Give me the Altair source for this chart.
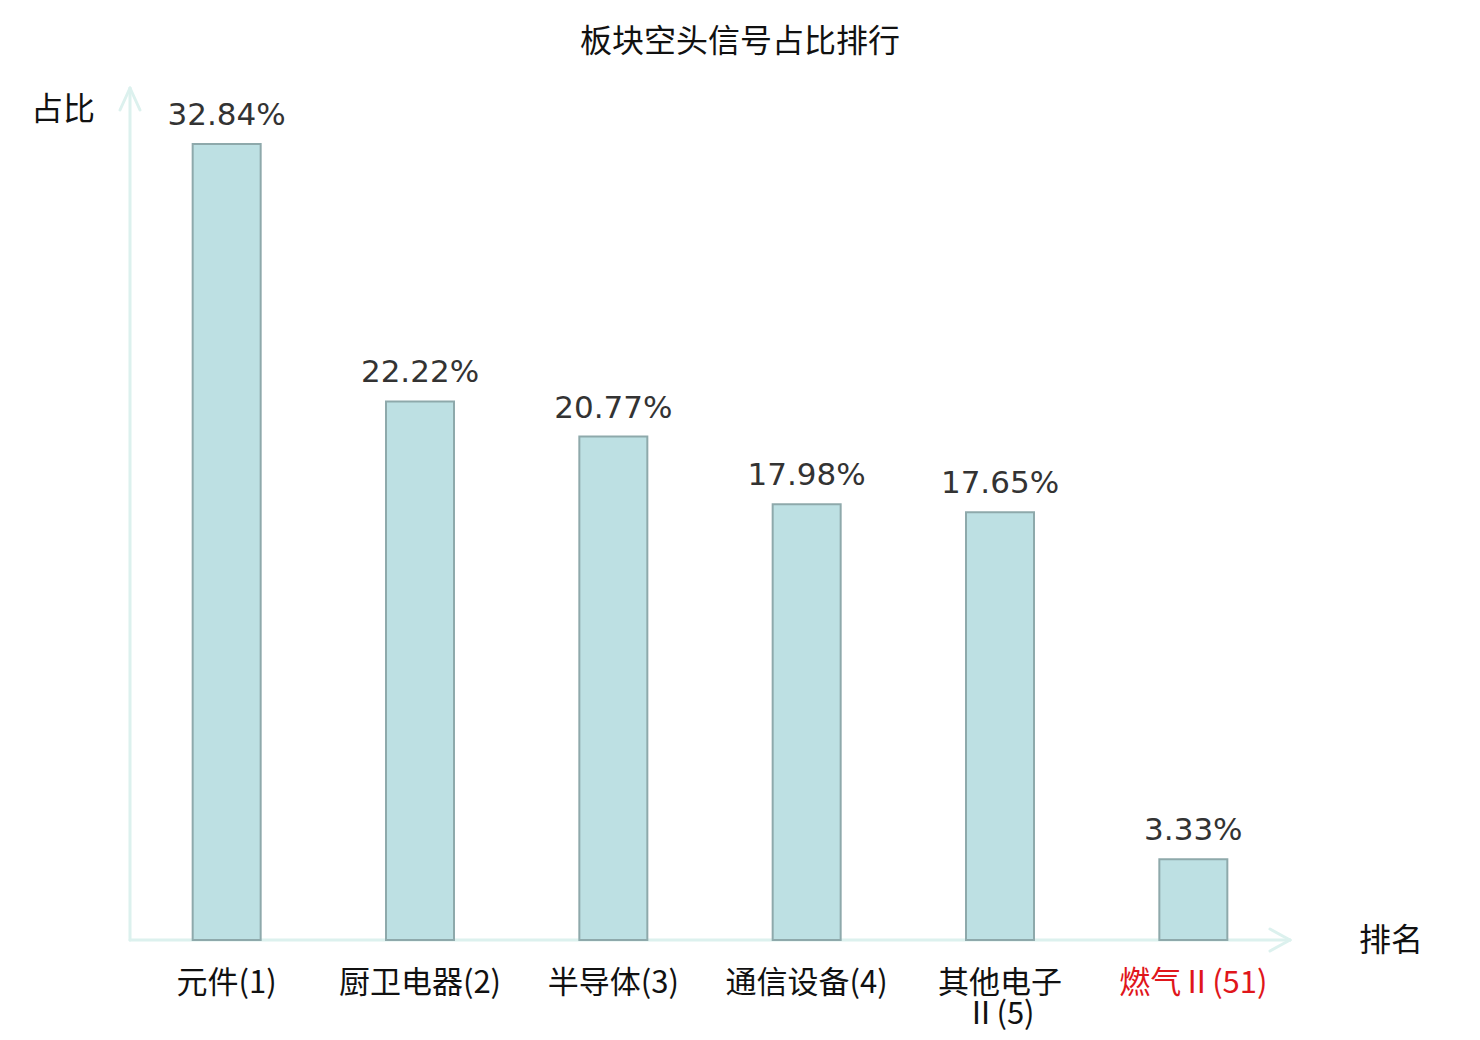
import altair as alt
import pandas as pd

# ---- data ----
names = ["元件", "厨卫电器", "半导体", "通信设备", "其他电子Ⅱ", "燃气Ⅱ"]
ranks = [1, 2, 3, 4, 5, 51]
values = [32.84, 22.22, 20.77, 17.98, 17.65, 3.33]
title_text = "板块空头信号占比排行"
y_title = "占比"
x_title = "排名"

labels = []
for n, r in zip(names, ranks):
    s = f"{n}({r})"
    if len(s) > 7:
        s = s.replace("Ⅱ", "\nⅡ")
    labels.append(s)

df = pd.DataFrame({
    "cat": [f"{n}({r})" for n, r in zip(names, ranks)],
    "label": labels,
    "rank": ranks,
    "value": values,
    "vlabel": [f"{v:.2f}%" for v in values],
})
order = list(df["cat"])

W, H = 1160, 850
AXIS_COLOR = "#dcf1ee"
CJK = "Noto Sans CJK SC"

xenc = alt.X("cat:N", sort=order, axis=None,
             scale=alt.Scale(paddingInner=0, paddingOuter=0))
yenc = alt.Y("value:Q", axis=None, scale=alt.Scale(domain=[0, 35.07], nice=False, zero=True))

base = alt.Chart(df)

bars = base.mark_bar(size=68, fill="#bde0e3", stroke="#8ea9ab", strokeWidth=2).encode(
    x=xenc, y=yenc)

vtext = base.mark_text(font="DejaVu Sans", fontSize=31, color="#333333",
                       baseline="alphabetic", dy=-19).encode(
    x=xenc, y=yenc, text="vlabel:N")

ctext = base.mark_text(font=CJK, fontSize=31, baseline="alphabetic", lineBreak="\n",
                       lineHeight=31).encode(
    x=xenc, y=alt.value(H + 53), text="label:N",
    color=alt.condition(alt.datum.rank > 10, alt.value("#e0161b"), alt.value("#111111")))

one = alt.Chart(pd.DataFrame({"a": [0]}))

def seg(x1, y1, x2, y2):
    return one.mark_rule(color=AXIS_COLOR, strokeWidth=3, strokeCap="round").encode(
        x=alt.value(x1), y=alt.value(y1), x2=alt.value(x2), y2=alt.value(y2))

axes = [
    seg(0, -2, 0, H),          # y axis
    seg(-10, 20, 0, -2),
    seg(10, 20, 0, -2),
    seg(0, H, W, H),           # x axis
    seg(W - 20, H - 11, W, H),
    seg(W - 20, H + 11, W, H),
]

ytitle = one.mark_text(font=CJK, fontSize=32, color="#111111").encode(
    x=alt.value(-67), y=alt.value(20), text=alt.value(y_title))
xtitle = one.mark_text(font=CJK, fontSize=32, color="#111111").encode(
    x=alt.value(1261), y=alt.value(H + 1), text=alt.value(x_title))
ttl = one.mark_text(font=CJK, fontSize=32, color="#111111").encode(
    x=alt.value(610), y=alt.value(-48), text=alt.value(title_text))

chart = alt.layer(*axes, bars, vtext, ctext, ytitle, xtitle, ttl).properties(
    width=W, height=H,
    autosize=alt.AutoSizeParams(type="none"),
    padding={"left": 122, "top": 82, "right": 182, "bottom": 92},
).configure_view(stroke=None)

chart.save("out.html", embed_options={"renderer": "svg", "actions": False})
